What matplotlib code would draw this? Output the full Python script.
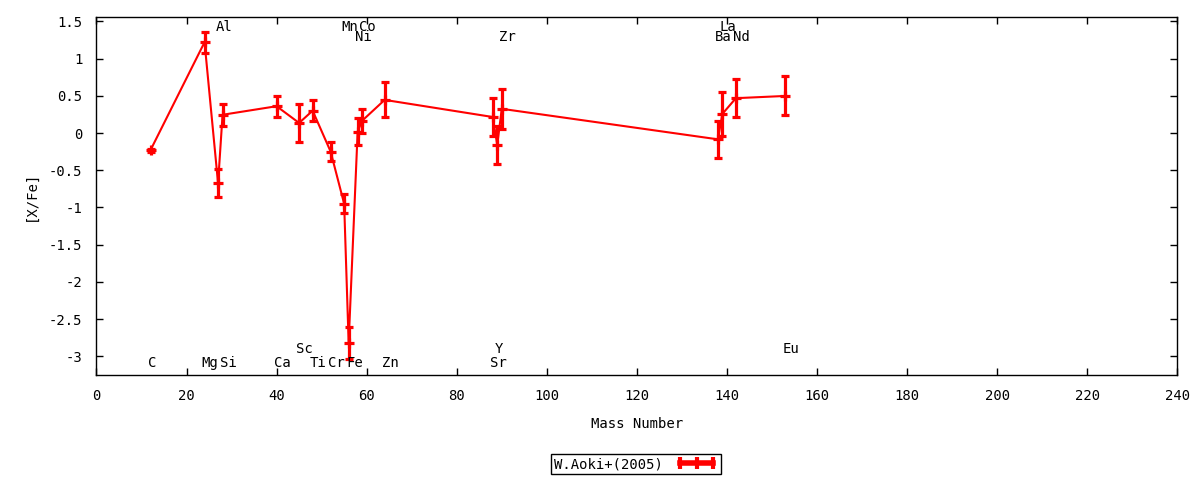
import matplotlib
matplotlib.use('Agg')
import matplotlib.pyplot as plt
from matplotlib.lines import Line2D
import numpy as np

plt.rcParams['font.family'] = ['DejaVu Sans Mono']
plt.rcParams['font.size'] = 10

# abundances
elements = ['C', 'Mg', 'Al', 'Si', 'Ca', 'Sc', 'Ti', 'Cr', 'Mn', 'Fe',
            'Ni', 'Co', 'Zn', 'Sr', 'Y', 'Zr', 'Ba', 'La', 'Nd', 'Eu']
mass = [12, 24, 27, 28, 40, 45, 48, 52, 55, 56,
        58, 59, 64, 88, 89, 90, 138, 139, 142, 153]
xfe = [-0.23, 1.22, -0.675, 0.245, 0.36, 0.135, 0.30, -0.25, -0.95, -2.82,
       0.02, 0.165, 0.445, 0.215, -0.16, 0.325, -0.085, 0.257, 0.468, 0.498]
err = [0.02, 0.14, 0.19, 0.15, 0.14, 0.25, 0.14, 0.125, 0.13, 0.22,
       0.175, 0.16, 0.235, 0.25, 0.25, 0.27, 0.245, 0.30, 0.258, 0.262]

# which row each element name sits in (0,1 bottom; 2,3 top)
label_row = [0, 0, 3, 0, 0, 1, 0, 0, 3, 0,
             2, 3, 0, 0, 1, 2, 2, 3, 2, 1]
row_y = [-3.086, -2.898, 1.294, 1.428]

fig = plt.figure(figsize=(12, 4.8), dpi=100)
ax = fig.add_axes([0.0804, 0.219, 0.9006, 0.745])

ax.errorbar(mass, xfe, yerr=err, color='#ff0000', lw=1.5, elinewidth=2.3,
            capsize=3.2, capthick=2.3, marker='+', ms=7, mew=2.3)

for name, m, r in zip(elements, mass, label_row):
    ax.text(m - 0.6, row_y[r], name, ha='left', va='center', fontsize=10)

ax.set_xlim(0, 240)
ax.set_ylim(-3.25, 1.555)
ax.set_xticks(np.arange(0, 241, 20))
ax.set_yticks(np.arange(-3, 1.51, 0.5))
ax.set_yticklabels(['-3', '-2.5', '-2', '-1.5', '-1', '-0.5', '0', '0.5', '1', '1.5'])
ax.tick_params(direction='in', top=True, right=True, length=5, width=1)
ax.tick_params(axis='x', pad=10)
ax.tick_params(axis='y', pad=10)
for s in ax.spines.values():
    s.set_linewidth(1)

ax.set_xlabel('Mass Number', labelpad=10)
ax.set_ylabel('[X/Fe]', labelpad=8)

# gnuplot style key sample: horizontal bar with ticks
key = Line2D([], [], color='#ff0000', lw=4, marker='|', ms=9, mew=3)
fig.legend([key], ['W.Aoki+(2005)'], loc='center',
           bbox_to_anchor=(636 / 1200, 1 - 464 / 480), numpoints=3,
           markerfirst=False, fancybox=False, edgecolor='black',
           framealpha=1, borderpad=0.25, borderaxespad=0,
           handlelength=3.0, handletextpad=0.9, fontsize=10)

fig.savefig('out.png', dpi=100)
